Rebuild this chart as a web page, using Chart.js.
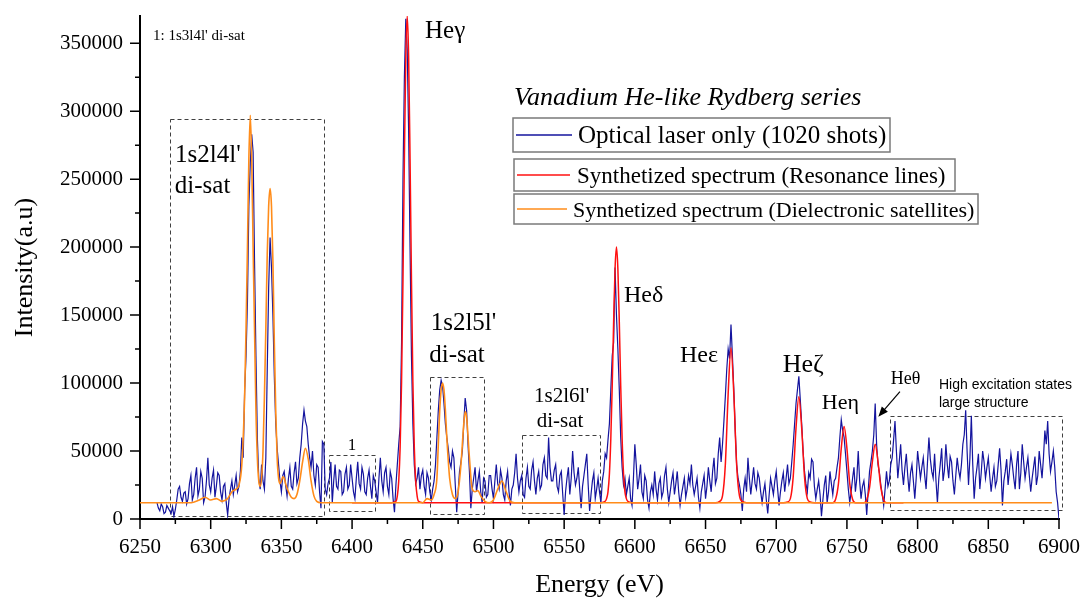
<!DOCTYPE html>
<html>
<head>
<meta charset="utf-8">
<title>Vanadium He-like Rydberg series</title>
<script src="https://cdn.jsdelivr.net/npm/chart.js@4.4.1/dist/chart.umd.min.js"></script>
<style>
    html, body { margin: 0; padding: 0; background: #fff; }
    #wrap { width: 1082px; height: 599px; position: relative; }
</style>
</head>
<body>
<div id="wrap"><canvas id="spectrum"></canvas></div>
<script>
// Intensities below are written in units of 1000 counts
const UNIT = 1000;

// Optical laser only (1020 shots) - one value per eV starting at 6262 eV
const opticalStart = 6262;
const opticalStep = 1;
const opticalI = [
    12, 8, 6, 11, 9, 4, 5, 10, 8, 6, 4, 9, 2, 7, 14, 22, 24, 16, 13, 19,                 // 6262
    20, 11, 15, 26, 32, 14, 18, 30, 38, 17, 22, 35, 30, 12, 16, 28, 45, 25, 20, 30,      // 6282
    36, 16, 24, 34, 32, 20, 14, 24, 26, 12, 3, 15, 22, 28, 18, 25, 32, 20, 24, 35,       // 6302
    60, 45, 94, 120, 160, 230, 262, 283, 270, 190, 120, 60, 30, 22, 40, 28, 22, 45, 110, 170, // 6322
    207, 185, 150, 105, 70, 52, 40, 28, 20, 32, 35, 25, 17, 30, 38, 24, 22, 34, 42, 26,  // 6342
    30, 45, 55, 70, 80, 72, 68, 55, 45, 38, 50, 32, 25, 40, 38, 20, 8, 57, 55, 22,       // 6362
    18, 26, 30, 42, 12, 28, 40, 24, 22, 36, 35, 18, 20, 33, 38, 22, 25, 40, 30, 20,      // 6382
    15, 30, 42, 26, 22, 38, 33, 20, 18, 30, 36, 24, 15, 32, 28, 20, 12, 30, 45, 28,      // 6402
    20, 34, 38, 24, 18, 35, 30, 15, 5, 25, 40, 55, 68, 130, 250, 325, 368, 345, 286, 200, // 6422
    120, 70, 40, 26, 30, 38, 22, 32, 36, 24, 18, 34, 30, 20, 14, 22, 28, 40, 60, 80,     // 6442
    95, 102, 98, 85, 70, 60, 52, 42, 38, 50, 45, 25, 5, 20, 35, 42, 50, 70, 89, 80,      // 6462
    55, 35, 8, 22, 30, 38, 20, 28, 35, 20, 12, 30, 28, 16, 18, 32, 32, 22, 15, 28,       // 6482
    40, 26, 22, 36, 30, 18, 14, 28, 35, 20, 10, 22, 25, 34, 48, 30, 20, 28, 32, 18,      // 6502
    16, 30, 38, 24, 22, 36, 42, 28, 18, 30, 35, 22, 25, 40, 45, 32, 30, 60, 38, 28,      // 6522
    28, 36, 40, 24, 20, 32, 35, 18, 3, 20, 30, 38, 18, 30, 50, 34, 25, 30, 38, 22,       // 6542
    8, 24, 32, 40, 48, 25, 6, 18, 28, 34, 15, 22, 30, 20, 12, 28, 35, 48, 45, 58,        // 6562
    70, 95, 120, 130, 185, 150, 125, 95, 60, 38, 25, 30, 18, 24, 30, 15, 10, 30, 55, 40, // 6582
    22, 30, 40, 20, 15, 32, 28, 14, 8, 20, 25, 18, 35, 22, 14, 26, 30, 16, 20, 32,       // 6602
    38, 22, 12, 20, 28, 34, 18, 26, 35, 20, 10, 18, 24, 30, 16, 22, 32, 26, 40, 25,      // 6622
    18, 24, 30, 16, 8, 20, 26, 32, 15, 24, 38, 28, 20, 35, 45, 26, 30, 48, 60, 42,       // 6642
    55, 72, 90, 110, 125, 118, 143, 120, 95, 65, 40, 30, 25, 18, 6, 22, 30, 20, 45, 30,  // 6662
    18, 28, 38, 26, 22, 34, 30, 20, 12, 20, 26, 14, 4, 18, 30, 24, 18, 28, 35, 22,       // 6682
    10, 20, 28, 34, 20, 30, 40, 26, 30, 42, 55, 70, 85, 95, 105, 88, 70, 50, 35, 26,     // 6702
    20, 34, 30, 44, 42, 24, 15, 22, 28, 18, 2, 14, 25, 32, 12, 20, 35, 26, 18, 28,       // 6722
    30, 38, 45, 60, 73, 65, 60, 48, 35, 22, 12, 20, 30, 38, 20, 30, 50, 28, 15, 24,      // 6742
    28, 18, 3, 20, 35, 42, 50, 62, 85, 55, 40, 34, 25, 18, 10, 22, 35, 24, 28, 40,       // 6762
    45, 58, 72, 50, 30, 42, 55, 36, 25, 38, 48, 32, 20, 34, 40, 28, 15, 30, 50, 40,      // 6782
    30, 38, 45, 32, 22, 42, 60, 44, 35, 30, 48, 28, 12, 30, 40, 52, 28, 36, 55, 40,      // 6802
    30, 46, 42, 28, 18, 32, 45, 36, 30, 40, 55, 62, 80, 50, 25, 45, 76, 40, 15, 30,      // 6822
    38, 48, 22, 34, 50, 42, 30, 38, 45, 32, 20, 30, 38, 24, 28, 40, 52, 36, 10, 28,      // 6842
    35, 44, 25, 36, 48, 40, 30, 22, 40, 50, 22, 34, 55, 42, 30, 38, 45, 32, 20, 30,      // 6862
    38, 46, 25, 32, 50, 40, 30, 45, 65, 55, 72, 48, 35, 42, 50, 38, 20, 12, 0            // 6882
];

// Synthetized spectrum (Resonance lines): Heγ ... Heθ
const resonanceE = [
    6400, 6428, 6431, 6432, 6433, 6434, 6435, 6436, 6437, 6438, 6439, 6440, 6441, 6442, 6443, 6444, 6445, 6446, 6447, 6450,
    6576, 6579, 6580, 6581, 6582, 6583, 6584, 6585, 6586, 6587, 6588, 6589, 6590, 6591, 6592, 6593, 6594, 6595, 6598,
    6657, 6660, 6662, 6664, 6666, 6668, 6670, 6672, 6674, 6676, 6679,
    6705, 6708, 6710, 6712, 6714, 6716, 6718, 6720, 6722, 6724, 6727,
    6740, 6742, 6744, 6746, 6748, 6750, 6752, 6754, 6756,
    6762, 6764, 6766, 6768, 6770, 6772, 6774, 6776, 6778, 6790
];
const resonanceI = [
    12, 12, 13, 17, 28, 53, 101, 176, 265, 340, 370, 340, 265, 176, 101, 53, 28, 17, 13, 12,
    12, 13, 15, 20, 33, 59, 98, 145, 184, 200, 184, 145, 98, 59, 33, 20, 15, 13, 12,
    12, 13, 17, 40, 92, 126, 92, 40, 17, 13, 12,
    12, 12.5, 15, 31, 67, 90, 67, 31, 15, 12.5, 12,
    12, 14.5, 26, 52, 68, 52, 26, 14.5, 12,
    12, 14, 23, 42, 55, 42, 23, 14, 12, 12
];

// Synthetized spectrum (Dielectronic satellites)
const satelliteE = [
    6250, 6286, 6292, 6296, 6300, 6304, 6308, 6312, 6315, 6318, 6320, 6322, 6324, 6325, 6326, 6327, 6328, 6329, 6330,
    6331, 6332, 6333, 6334, 6335, 6336, 6337, 6338, 6339, 6340, 6341, 6342, 6343, 6344, 6345, 6346, 6347, 6348, 6349,
    6350, 6351, 6352, 6353, 6355, 6357, 6359, 6361, 6363, 6365, 6367, 6369, 6371, 6373, 6375, 6378,
    6450, 6453, 6456, 6458, 6460, 6461, 6462, 6463, 6464, 6465, 6466, 6467, 6469, 6471, 6473, 6475, 6477, 6479,
    6480, 6481, 6483, 6485, 6487, 6489, 6491, 6494, 6497, 6500, 6503, 6506, 6509, 6512, 6515, 6895
];
const satelliteI = [
    12, 12, 14, 16, 14, 15, 13, 15, 20, 22, 25, 40, 90, 140, 200, 265, 297, 265, 200,
    140, 80, 45, 28, 24, 30, 50, 90, 140, 195, 230, 243, 230, 190, 130, 80, 45, 30, 26,
    28, 31, 30, 26, 20, 16, 15, 18, 28, 42, 52, 44, 28, 17, 13, 12,
    12, 15, 14, 18, 30, 55, 80, 95, 100, 95, 80, 60, 30, 18, 15, 20, 40, 70,
    79, 75, 45, 22, 20, 21, 17, 13, 12, 14, 22, 28, 20, 13, 12, 12
];

// Axis ticks
const xMajor = [6250, 6300, 6350, 6400, 6450, 6500, 6550, 6600, 6650, 6700, 6750, 6800, 6850, 6900];
const xMinor = [6275, 6325, 6375, 6425, 6475, 6525, 6575, 6625, 6675, 6725, 6775, 6825, 6875];
const yMajor = [0, 50000, 100000, 150000, 200000, 250000, 300000, 350000];
const yMinor = [25000, 75000, 125000, 175000, 225000, 275000, 325000];

const SERIF = '"Liberation Serif", "Times New Roman", serif';
const SANS = '"Liberation Sans", Arial, sans-serif';

const BLUE = '#14149e';
const RED = '#ff1010';
const ORANGE = '#ff8c1a';

// dashed boxes, in data coordinates (eV, counts)
const boxes = [
    { e0: 6271, e1: 6380, v0: 2400, v1: 294400 },
    { e0: 6384, e1: 6416, v0: 6000, v1: 47300 },
    { e0: 6455, e1: 6493.5, v0: 3700, v1: 104300 },
    { e0: 6520.5, e1: 6575, v0: 4700, v1: 61600 },
    { e0: 6780.5, e1: 6902, v0: 6600, v1: 76000 }
];

// text notes, anchored at their left baseline in data coordinates
const notes = [
    { text: "1: 1s3l4l' di-sat", e: 6259.2, v: 352400, size: 15 },
    { text: 'Heγ', e: 6451.6, v: 353700, size: 25 },
    { text: "1s2l4l'", e: 6274.8, v: 262900, size: 25 },
    { text: 'di-sat', e: 6274.6, v: 240100, size: 25 },
    { text: "1s2l5l'", e: 6455.6, v: 139100, size: 25 },
    { text: 'di-sat', e: 6454.6, v: 115700, size: 25 },
    { text: "1s2l6l'", e: 6528.7, v: 86300, size: 21 },
    { text: 'di-sat', e: 6530.6, v: 67900, size: 21 },
    { text: 'Heδ', e: 6592.3, v: 159900, size: 24 },
    { text: 'Heε', e: 6631.9, v: 115700, size: 24 },
    { text: 'Heζ', e: 6704.6, v: 108400, size: 26 },
    { text: 'Heη', e: 6732.2, v: 80700, size: 22 },
    { text: 'Heθ', e: 6781.0, v: 99300, size: 18 },
    { text: '1', e: 6396.9, v: 50800, size: 17 },
    { text: 'High excitation states', e: 6815.1, v: 95400, size: 14, family: SANS },
    { text: 'large structure', e: 6815.1, v: 82200, size: 14, family: SANS }
];

// arrow pointing at Heθ
const arrow = { e0: 6787.5, v0: 93700, e1: 6772.2, v1: 75300 };

// legend entries (drawn as separate framed boxes like the original figure)
const legendItems = [
    { label: 'Optical laser only (1020 shots)', color: BLUE, size: 25, box: [513, 118, 890, 152], lineTo: 572, textX: 578, base: 143 },
    { label: 'Synthetized spectrum (Resonance lines)', color: RED, size: 23, box: [514, 159, 955, 191], lineTo: 570, textX: 577, base: 183 },
    { label: 'Synthetized spectrum (Dielectronic satellites)', color: ORANGE, size: 22, box: [514, 194, 978, 224], lineTo: 567, textX: 573, base: 217 }
];

function toPoints(xs, ys) {
    return xs.map((x, i) => ({ x: x, y: ys[i] * UNIT }));
}

const annotationPlugin = {
    id: 'annotations',
    beforeDatasetsDraw(chart) {
        const ctx = chart.ctx;
        const sx = chart.scales.x, sy = chart.scales.y;
        ctx.save();
        ctx.strokeStyle = '#404040';
        ctx.lineWidth = 1;
        ctx.setLineDash([4, 3]);
        boxes.forEach(b => {
            const x0 = Math.round(sx.getPixelForValue(b.e0)) + 0.5;
            const x1 = Math.round(sx.getPixelForValue(b.e1)) + 0.5;
            const y0 = Math.round(sy.getPixelForValue(b.v0)) + 0.5;
            const y1 = Math.round(sy.getPixelForValue(b.v1)) + 0.5;
            ctx.strokeRect(x0, y1, x1 - x0, y0 - y1);
        });
        ctx.restore();
    },
    afterDraw(chart) {
        const ctx = chart.ctx;
        const sx = chart.scales.x, sy = chart.scales.y;
        const area = chart.chartArea;
        ctx.save();

        // tick marks (outside), major and minor
        ctx.strokeStyle = '#000';
        ctx.lineWidth = 1.5;
        ctx.beginPath();
        xMajor.forEach(v => { const p = sx.getPixelForValue(v); ctx.moveTo(p, area.bottom); ctx.lineTo(p, area.bottom + 10); });
        xMinor.forEach(v => { const p = sx.getPixelForValue(v); ctx.moveTo(p, area.bottom); ctx.lineTo(p, area.bottom + 5); });
        yMajor.forEach(v => { const p = sy.getPixelForValue(v); ctx.moveTo(area.left, p); ctx.lineTo(area.left - 10, p); });
        yMinor.forEach(v => { const p = sy.getPixelForValue(v); ctx.moveTo(area.left, p); ctx.lineTo(area.left - 5, p); });
        ctx.stroke();

        // notes
        ctx.fillStyle = '#000';
        ctx.textBaseline = 'alphabetic';
        ctx.textAlign = 'left';
        notes.forEach(n => {
            ctx.font = n.size + 'px ' + (n.family || SERIF);
            ctx.fillText(n.text, sx.getPixelForValue(n.e), sy.getPixelForValue(n.v));
        });

        // arrow
        const ax0 = sx.getPixelForValue(arrow.e0), ay0 = sy.getPixelForValue(arrow.v0);
        const ax1 = sx.getPixelForValue(arrow.e1), ay1 = sy.getPixelForValue(arrow.v1);
        const ang = Math.atan2(ay1 - ay0, ax1 - ax0);
        ctx.strokeStyle = '#000';
        ctx.lineWidth = 1.2;
        ctx.beginPath();
        ctx.moveTo(ax0, ay0);
        ctx.lineTo(ax1 - 6 * Math.cos(ang), ay1 - 6 * Math.sin(ang));
        ctx.stroke();
        ctx.beginPath();
        ctx.moveTo(ax1, ay1);
        ctx.lineTo(ax1 - 10 * Math.cos(ang) + 4 * Math.sin(ang), ay1 - 10 * Math.sin(ang) - 4 * Math.cos(ang));
        ctx.lineTo(ax1 - 10 * Math.cos(ang) - 4 * Math.sin(ang), ay1 - 10 * Math.sin(ang) + 4 * Math.cos(ang));
        ctx.closePath();
        ctx.fill();

        // legend title
        ctx.font = 'italic 26px ' + SERIF;
        ctx.fillText('Vanadium He-like Rydberg series', 514, 105);

        // legend boxes
        legendItems.forEach(item => {
            const [l, t, r, b] = item.box;
            ctx.fillStyle = '#fff';
            ctx.fillRect(l, t, r - l, b - t);
            ctx.strokeStyle = '#7a7a7a';
            ctx.lineWidth = 1.5;
            ctx.strokeRect(l, t, r - l, b - t);
            const mid = (t + b) / 2;
            ctx.strokeStyle = item.color;
            ctx.lineWidth = 1.5;
            ctx.beginPath();
            ctx.moveTo(l + 3, mid);
            ctx.lineTo(item.lineTo, mid);
            ctx.stroke();
            ctx.fillStyle = '#000';
            ctx.font = item.size + 'px ' + SERIF;
            ctx.fillText(item.label, item.textX, item.base);
        });

        ctx.restore();
    }
};

new Chart(document.getElementById('spectrum'), {
    type: 'line',
    data: {
        datasets: [
            {
                label: 'Synthetized spectrum (Dielectronic satellites)',
                data: toPoints(satelliteE, satelliteI),
                borderColor: ORANGE,
                borderWidth: 1.6,
                pointRadius: 0,
                cubicInterpolationMode: 'monotone',
                order: 1
            },
            {
                label: 'Synthetized spectrum (Resonance lines)',
                data: toPoints(resonanceE, resonanceI),
                borderColor: RED,
                borderWidth: 1.5,
                pointRadius: 0,
                cubicInterpolationMode: 'monotone',
                order: 2
            },
            {
                label: 'Optical laser only (1020 shots)',
                data: opticalI.map((v, i) => ({ x: opticalStart + i * opticalStep, y: v * UNIT })),
                borderColor: BLUE,
                borderWidth: 1.2,
                pointRadius: 0,
                tension: 0,
                order: 3
            }
        ]
    },
    options: {
        responsive: true,
        maintainAspectRatio: false,
        animation: false,
        layout: { padding: { top: 16, right: 23, bottom: 0, left: 0 } },
        plugins: {
            legend: { display: false },
            tooltip: { enabled: false }
        },
        scales: {
            x: {
                type: 'linear',
                min: 6250,
                max: 6900,
                // fixed axis band; drop the edge padding Chart.js reserves for end labels
                afterFit: (scale) => { scale.height = 80; scale.paddingLeft = 0; scale.paddingRight = 0; },
                afterBuildTicks: (scale) => { scale.ticks = xMajor.map(v => ({ value: v })); },
                grid: { display: false, drawTicks: false },
                border: { display: true, color: '#000', width: 2 },
                ticks: {
                    color: '#000',
                    font: { family: SERIF, size: 21 },
                    padding: 16,
                    maxRotation: 0,
                    autoSkip: false,
                    callback: (v) => String(v)
                },
                title: {
                    display: true,
                    text: 'Energy (eV)',
                    color: '#000',
                    font: { family: SERIF, size: 26, lineHeight: 1 },
                    padding: { top: 0, bottom: 1 }
                }
            },
            y: {
                type: 'linear',
                min: 0,
                max: 370000,
                afterFit: (scale) => { scale.width = 140; scale.paddingTop = 0; scale.paddingBottom = 0; },
                afterBuildTicks: (scale) => { scale.ticks = yMajor.map(v => ({ value: v })); },
                grid: { display: false, drawTicks: false },
                border: { display: true, color: '#000', width: 2 },
                ticks: {
                    color: '#000',
                    font: { family: SERIF, size: 21 },
                    padding: 17,
                    autoSkip: false,
                    callback: (v) => String(v)
                },
                title: {
                    display: true,
                    text: 'Intensity(a.u)',
                    color: '#000',
                    font: { family: SERIF, size: 26 },
                    padding: { top: 10, bottom: 0 }
                }
            }
        }
    },
    plugins: [annotationPlugin]
});
</script>
</body>
</html>
